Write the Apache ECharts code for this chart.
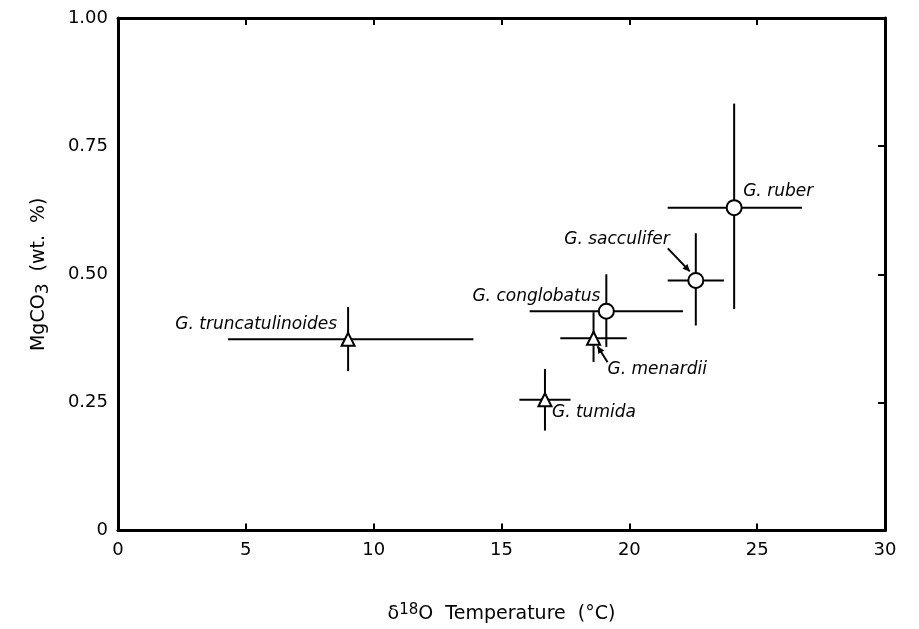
<!DOCTYPE html>
<html><head><meta charset="utf-8">
<script src="https://cdn.jsdelivr.net/npm/echarts@6/dist/echarts.min.js"></script>
<style>html,body{margin:0;padding:0;background:#fff}#c{width:919px;height:629px}</style>
</head><body><div id="c"></div>
<script>
// ---- data ----
const species   = ['G. truncatulinoides','G. conglobatus','G. menardii','G. tumida','G. sacculifer','G. ruber'];
const tempC     = [9.0, 19.1, 18.6, 16.7, 22.6, 24.1];
const mgco3     = [0.373, 0.428, 0.375, 0.255, 0.488, 0.630];
const tempLow   = [4.3, 16.1, 17.3, 15.7, 21.5, 21.5];
const tempHigh  = [13.9, 22.1, 19.9, 17.7, 23.7, 26.75];
const mgLow     = [0.311, 0.358, 0.329, 0.195, 0.400, 0.432];
const mgHigh    = [0.436, 0.500, 0.426, 0.315, 0.580, 0.833];
const markerType= ['triangle','circle','triangle','triangle','circle','circle'];
const xTicks    = [0, 5, 10, 15, 20, 25, 30];
const yTicks    = [0, 0.25, 0.50, 0.75, 1.00];

// ---- styling (label placement in pixels relative to the point) ----
const labelStyle = {
  'G. truncatulinoides': {dx:-11, dy:-15, align:'right'},
  'G. conglobatus':      {dx:-6,  dy:-15, align:'right'},
  'G. menardii':         {dx:14,  dy:31,  align:'left', arrow:[14,24,4,8]},
  'G. tumida':           {dx:7,   dy:13,  align:'left'},
  'G. sacculifer':       {dx:-26, dy:-41, align:'right', arrow:[-28,-32,-6,-9]},
  'G. ruber':            {dx:9,   dy:-16, align:'left'}
};

const rows = species.map((s,i)=>[tempC[i], mgco3[i], tempLow[i], tempHigh[i], mgLow[i], mgHigh[i]]);
const pts = species.map((s,i)=>({value:[tempC[i], mgco3[i]], symbol:markerType[i],
  symbolSize: markerType[i]==='circle'?15:13}));

const chart = echarts.init(document.getElementById('c'));
const fontF = 'DejaVu Sans';
const lineCol = '#000';

function arrowHead(x1,y1,x2,y2){
  const ang = Math.atan2(y2-y1, x2-x1), L=7, W=3.5;
  const bx = x2 - L*Math.cos(ang), by = y2 - L*Math.sin(ang);
  const nx = -Math.sin(ang), ny = Math.cos(ang);
  return [[x2,y2],[bx+nx*W,by+ny*W],[bx-nx*W,by-ny*W]];
}

const tickStyle = {show:true, inside:true, length:7, lineStyle:{color:'#000', width:2}};
const lineStyleAxis = {show:true, onZero:false, lineStyle:{color:'#000', width:3}};

chart.setOption({
  animation:false,
  backgroundColor:'#fff',
  grid:{left:118, right:34, top:18, bottom:97, show:false},
  xAxis:[{
    type:'value', position:'bottom', min:xTicks[0], max:xTicks[xTicks.length-1], interval:5,
    axisLine:lineStyleAxis, axisTick:tickStyle,
    splitLine:{show:false},
    axisLabel:{color:'#000', fontFamily:fontF, fontSize:18, margin:11},
    name:'{a|δ}{s|18}{a|O  Temperature  (°C)}', nameLocation:'middle', nameGap:72,
    nameTextStyle:{fontSize:19, rich:{
      a:{fontFamily:fontF, fontSize:19, color:'#000'},
      s:{fontFamily:fontF, fontSize:15, color:'#000', verticalAlign:'top', padding:[0,0,9,0]}
    }}
  },{
    type:'value', position:'top', min:xTicks[0], max:xTicks[xTicks.length-1], interval:5,
    axisLine:lineStyleAxis, axisTick:tickStyle,
    axisLabel:{show:false}, splitLine:{show:false}
  }],
  yAxis:[{
    type:'value', position:'left', min:yTicks[0], max:yTicks[yTicks.length-1], interval:0.25,
    axisLine:lineStyleAxis,
    axisTick:{show:false},
    splitLine:{show:false},
    axisLabel:{color:'#000', fontFamily:fontF, fontSize:18, margin:10,
      formatter:v=> v===0 ? '0' : v.toFixed(2)},
    name:'{a|MgCO}{s|3}{a|  (wt.  %)}', nameLocation:'middle', nameGap:66, nameRotate:90,
    nameTextStyle:{fontSize:19, rich:{
      a:{fontFamily:fontF, fontSize:19, color:'#000'},
      s:{fontFamily:fontF, fontSize:17, color:'#000', verticalAlign:'bottom', padding:[9,0,0,0]}
    }}
  },{
    type:'value', position:'right', min:yTicks[0], max:yTicks[yTicks.length-1], interval:0.25,
    axisLine:lineStyleAxis, axisTick:tickStyle,
    axisLabel:{show:false}, splitLine:{show:false}
  }],
  series:[{
    type:'custom',
    data:rows,
    z:2,
    renderItem:function(params, api){
      const i = params.dataIndex;
      const p  = api.coord([api.value(0), api.value(1)]);
      const xl = api.coord([api.value(2), api.value(1)]);
      const xh = api.coord([api.value(3), api.value(1)]);
      const yl = api.coord([api.value(0), api.value(4)]);
      const yh = api.coord([api.value(0), api.value(5)]);
      const st = {stroke:lineCol, lineWidth:2};
      const ls = labelStyle[species[i]];
      const children = [
        {type:'line', shape:{x1:xl[0], y1:p[1], x2:xh[0], y2:p[1]}, style:st},
        {type:'line', shape:{x1:p[0], y1:yl[1], x2:p[0], y2:yh[1]}, style:st},
        {type:'text', x:p[0]+ls.dx, y:p[1]+ls.dy, style:{text:species[i], fill:'#000',
          font:'italic 17px "DejaVu Sans"', align:ls.align, verticalAlign:'middle'}}
      ];
      if (ls.arrow){
        const a = ls.arrow;
        const x1=p[0]+a[0], y1=p[1]+a[1], x2=p[0]+a[2], y2=p[1]+a[3];
        children.push({type:'line', shape:{x1:x1,y1:y1,x2:x2,y2:y2}, style:{stroke:'#000', lineWidth:2}});
        children.push({type:'polygon', shape:{points:arrowHead(x1,y1,x2,y2)}, style:{fill:'#000'}});
      }
      return {type:'group', children:children};
    }
  },{
    type:'scatter',
    data:pts,
    z:5,
    itemStyle:{color:'#fff', borderColor:'#000', borderWidth:2, opacity:1}
  }]
});
</script></body></html>
